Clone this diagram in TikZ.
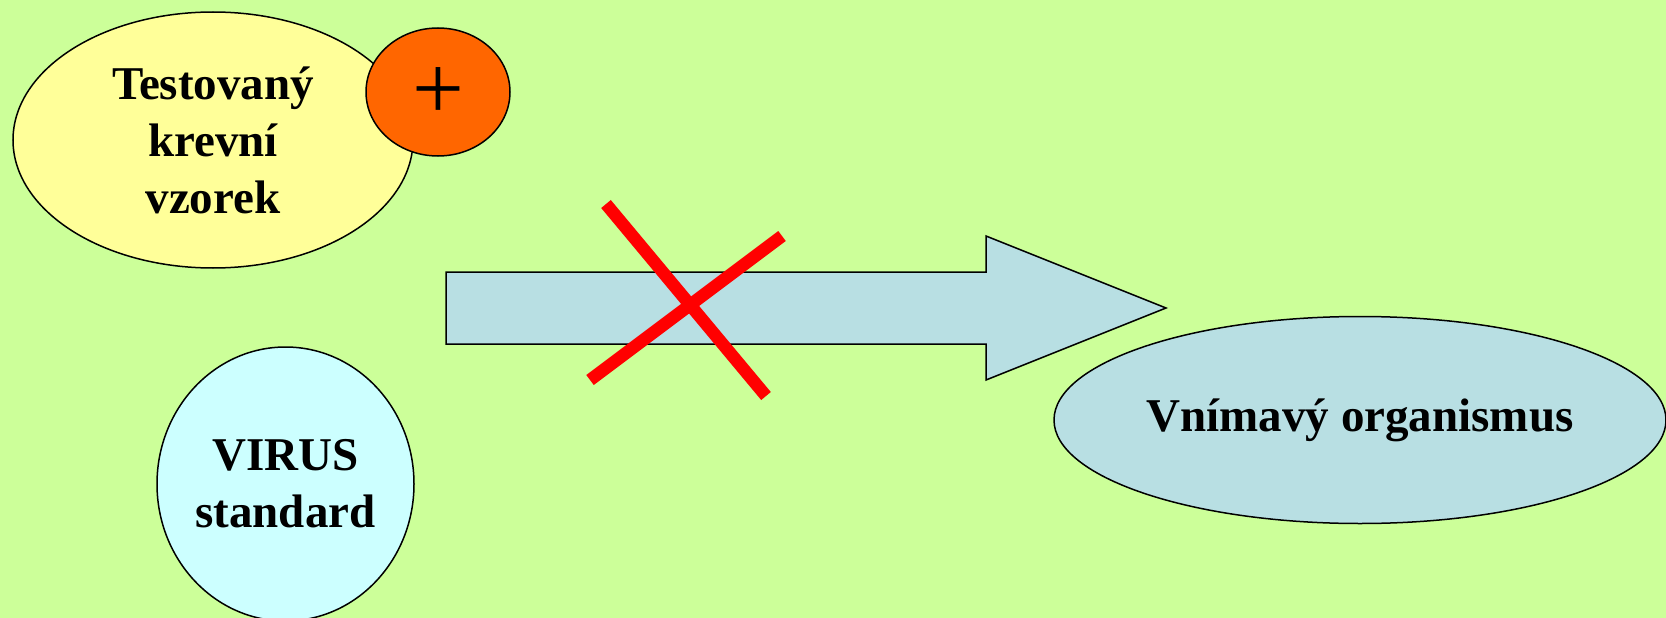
\documentclass[tikz,border=0pt]{standalone}
\usepackage{fontspec}
\setmainfont{Liberation Serif}
\usetikzlibrary{shapes.geometric}
\definecolor{bggreen}{HTML}{CCFF99}
\definecolor{sampleyellow}{HTML}{FFFF99}
\definecolor{plusorange}{HTML}{FF6600}
\definecolor{viruscyan}{HTML}{CCFFFF}
\definecolor{organblue}{HTML}{B8DFE3}
\definecolor{crossred}{HTML}{FF0000}
\tikzset{
  blob/.style={ellipse, draw=black, line width=1.5pt, inner sep=0pt, align=center,
    font=\fontsize{47}{57}\selectfont\bfseries},
  crossline/.style={draw=crossred, line width=12.5pt, line cap=butt},
}
\begin{document}
\begin{tikzpicture}[x=1pt,y=-1pt]
\useasboundingbox (0,0) rectangle (1666,618);
\fill[bggreen] (0,0) rectangle (1666,618);
% sample ellipse
\node[blob, fill=sampleyellow, minimum width=400pt, minimum height=256pt] (sample) at (213,140)
  {Testovaný\\krevní\\vzorek};
% plus badge
\node[ellipse, draw=black, line width=1.5pt, fill=plusorange, minimum width=144pt,
  minimum height=128pt, inner sep=0pt] (badge) at (438,92) {};
\node[font=\fontsize{92}{92}\selectfont, inner sep=0pt] (plus) at (438,94) {+};
% virus circle
\node[blob, fill=viruscyan, minimum width=257pt, minimum height=274pt] (virus) at (285.5,484)
  {VIRUS\\standard};
% organism ellipse
\node[blob, fill=organblue, minimum width=612pt, minimum height=207pt] (organ) at (1360,420)
  {Vnímavý organismus};
% block arrow
\coordinate (a1) at (446,272);
\coordinate (a2) at (986,272);
\coordinate (a3) at (986,236);
\coordinate (tip) at (1166,308);
\coordinate (a5) at (986,380);
\coordinate (a6) at (986,344);
\coordinate (a7) at (446,344);
\draw[fill=organblue, line width=1.5pt, line join=miter] (a1) -- (a2) -- (a3) -- (tip) -- (a5) -- (a6) -- (a7) -- cycle;
% red cross
\coordinate (c1s) at (606,204);
\coordinate (c1e) at (766,396);
\coordinate (c2s) at (782,236);
\coordinate (c2e) at (590,380);
\draw[crossline] (c1s) -- (c1e);
\draw[crossline] (c2s) -- (c2e);
\end{tikzpicture}
\end{document}
